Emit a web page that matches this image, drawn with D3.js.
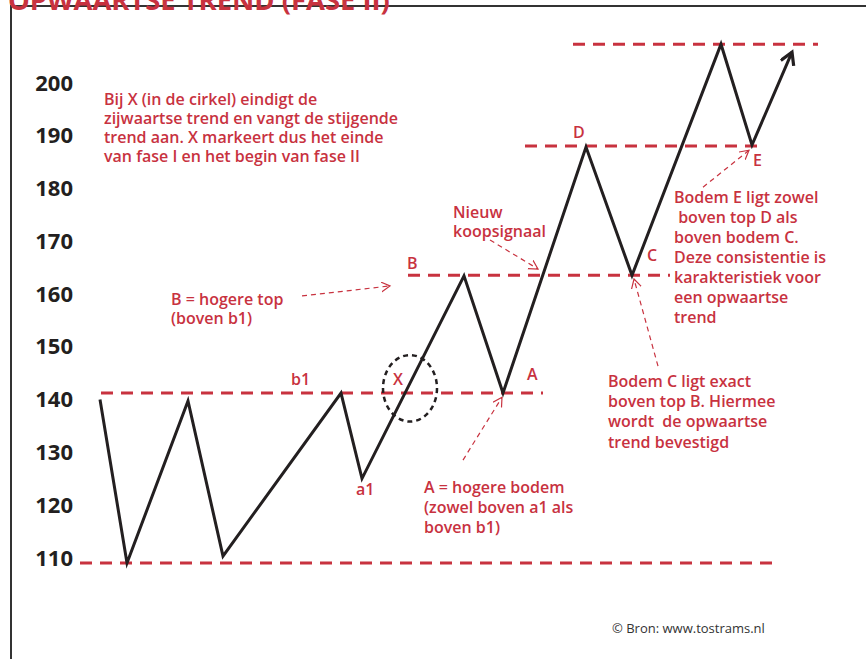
<!DOCTYPE html>
<html>
<head>
<meta charset="utf-8">
<script src="https://cdn.jsdelivr.net/npm/d3@7"></script>
<style>
  body { margin: 0; background: #fff; }
  .note { font-family: "Open Sans", sans-serif; font-weight: 600; fill: #c8323f; }
  .axis text { font-family: "Open Sans", sans-serif; font-weight: 700; font-size: 22px; fill: #231f20; }
</style>
</head>
<body>
<div id="chart"></div>
<script>
// koersverloop (x = tijd, y = koers)
const timeSteps = [0, 2.7, 8.8, 12.3, 24.1, 26.2, 36.4, 40.3, 48.6, 53.2, 62.1, 65.2, 69.2];
const prices = [141, 110, 140.7, 111.3, 142.2, 126, 164.4, 142.2, 188.8, 164.5, 208.3, 189.2, 206.8];

// horizontale steun/weerstand niveaus
const levelValues = [110, 142.2, 164.5, 189, 208.3];
const levelStart = [-2, 0.1, 30.8, 42.5, 47.3];
const levelEnd = [67.5, 44.3, 57, 66.5, 71.8];

const yTicks = [110, 120, 130, 140, 150, 160, 170, 180, 190, 200];

// punt labels
const pointNames = ["b1", "a1", "X", "A", "B", "C", "D", "E"];
const pointTime = [19.1, 25.6, 29.3, 42.7, 30.7, 54.7, 47.3, 65.3];
const pointPrice = [143.7, 122.8, 143.7, 144.6, 165.8, 167.2, 190.6, 185.2];

const width = 866, height = 659;

const svg = d3.select("#chart")
  .append("svg")
  .attr("width", width)
  .attr("height", height);

const x = d3.scaleLinear().domain([0, 70]).range([100, 800]);
const y = d3.scaleLinear().domain([110, 200]).range([563, 88]);

const red = "#c8323f";

const defs = svg.append("defs");
defs.append("marker")
  .attr("id", "redhead")
  .attr("markerUnits", "userSpaceOnUse")
  .attr("markerWidth", 14).attr("markerHeight", 14)
  .attr("refX", 9).attr("refY", 5)
  .attr("orient", "auto")
  .append("path")
  .attr("d", "M0,0 L9,5 L0,10")
  .attr("fill", "none")
  .attr("stroke", red)
  .attr("stroke-width", 1.2)
  .attr("stroke-dasharray", "none");

defs.append("marker")
  .attr("id", "blackhead")
  .attr("markerUnits", "userSpaceOnUse")
  .attr("markerWidth", 24).attr("markerHeight", 24)
  .attr("refX", 13).attr("refY", 8)
  .attr("orient", "auto")
  .append("path")
  .attr("d", "M1,1 L13,8 L1,15")
  .attr("fill", "none")
  .attr("stroke", "#231f20")
  .attr("stroke-width", 3.2);

// kader
svg.append("path")
  .attr("d", `M11,${height} L11,6 L${width},6`)
  .attr("fill", "none")
  .attr("stroke", "#333")
  .attr("stroke-width", 2);

// titel (half afgesneden)
svg.append("text")
  .attr("x", 8)
  .attr("y", 10)
  .style("font-family", "Open Sans, sans-serif")
  .style("font-weight", 700)
  .style("font-size", "27.4px")
  .style("fill", red)
  .text("OPWAARTSE TREND (FASE II)");

// y-as
svg.append("g")
  .attr("class", "axis")
  .attr("transform", "translate(73,-5)")
  .call(d3.axisLeft(y).tickValues(yTicks).tickSize(0).tickPadding(0))
  .call(g => g.select(".domain").remove());

// niveaus
svg.selectAll(".level")
  .data(levelValues)
  .enter()
  .append("line")
  .attr("class", "level")
  .attr("x1", (d, i) => x(levelStart[i]))
  .attr("x2", (d, i) => x(levelEnd[i]))
  .attr("y1", d => y(d))
  .attr("y2", d => y(d))
  .attr("stroke", red)
  .attr("stroke-width", 3)
  .attr("stroke-dasharray", "12,8");

// koerslijn
const line = d3.line().x(d => x(d[0])).y(d => y(d[1]));
svg.append("path")
  .datum(timeSteps.map((t, i) => [t, prices[i]]))
  .attr("d", line)
  .attr("fill", "none")
  .attr("stroke", "#231f20")
  .attr("stroke-width", 3)
  .attr("stroke-linejoin", "miter")
  .attr("marker-end", "url(#blackhead)");

// cirkel rond X
svg.append("ellipse")
  .attr("cx", x(31))
  .attr("cy", y(143.1))
  .attr("rx", x(2.7) - x(0))
  .attr("ry", y(110) - y(116.3))
  .attr("fill", "none")
  .attr("stroke", "#231f20")
  .attr("stroke-width", 2.5)
  .attr("stroke-dasharray", "5,4");

// punt labels
svg.selectAll(".plabel")
  .data(pointNames)
  .enter()
  .append("text")
  .attr("class", "note plabel")
  .attr("x", (d, i) => x(pointTime[i]))
  .attr("y", (d, i) => y(pointPrice[i]))
  .style("font-size", "16px")
  .text(d => d);

// rode pijltjes
const arrows = [
  [[20.2, 160.6], [29, 162.5]],
  [[39, 171.2], [43.8, 165.7]],
  [[36.3, 129.5], [40.2, 141.4]],
  [[55.8, 147.3], [53.4, 163.8]],
  [[60.3, 181.2], [64.9, 188.2]]
];
svg.selectAll(".arrow")
  .data(arrows)
  .enter()
  .append("line")
  .attr("class", "arrow")
  .attr("x1", d => x(d[0][0]))
  .attr("y1", d => y(d[0][1]))
  .attr("x2", d => x(d[1][0]))
  .attr("y2", d => y(d[1][1]))
  .attr("stroke", red)
  .attr("stroke-width", 1.2)
  .attr("stroke-dasharray", "5,4")
  .attr("marker-end", "url(#redhead)");

// tekstblokken
function noteBlock(t, p, lines, lh) {
  const txt = svg.append("text")
    .attr("class", "note")
    .attr("x", x(t))
    .attr("y", y(p))
    .style("font-size", "16px")
    .attr("xml:space", "preserve");
  lines.forEach((l, i) => {
    txt.append("tspan")
      .attr("x", x(t))
      .attr("dy", i === 0 ? 0 : lh)
      .text(l);
  });
}

noteBlock(0.4, 196.7, [
  "Bij X (in de cirkel) eindigt de",
  "zijwaartse trend en vangt de stijgende",
  "trend aan. X markeert dus het einde",
  "van fase I en het begin van fase II"
], 19);

noteBlock(7.1, 158.9, ["B = hogere top", "(boven b1)"], 19);
noteBlock(35.3, 175.3, ["Nieuw", "koopsignaal"], 19);
noteBlock(32.4, 123.3, ["A = hogere bodem", "(zowel boven a1 als", "boven b1)"], 20);
noteBlock(57.4, 178.2, [
  "Bodem E ligt zowel",
  " boven top D als",
  "boven bodem C.",
  "Deze consistentie is",
  "karakteristiek voor",
  "een opwaartse",
  "trend"
], 20);
noteBlock(50.8, 143.4, [
  "Bodem C ligt exact",
  "boven top B. Hiermee",
  "wordt  de opwaartse",
  "trend bevestigd"
], 20.3);

// bron
svg.append("text")
  .attr("x", 612)
  .attr("y", 633)
  .style("font-family", "Open Sans, sans-serif")
  .style("font-size", "13px")
  .style("fill", "#333")
  .text("© Bron: www.tostrams.nl");
</script>
</body>
</html>
